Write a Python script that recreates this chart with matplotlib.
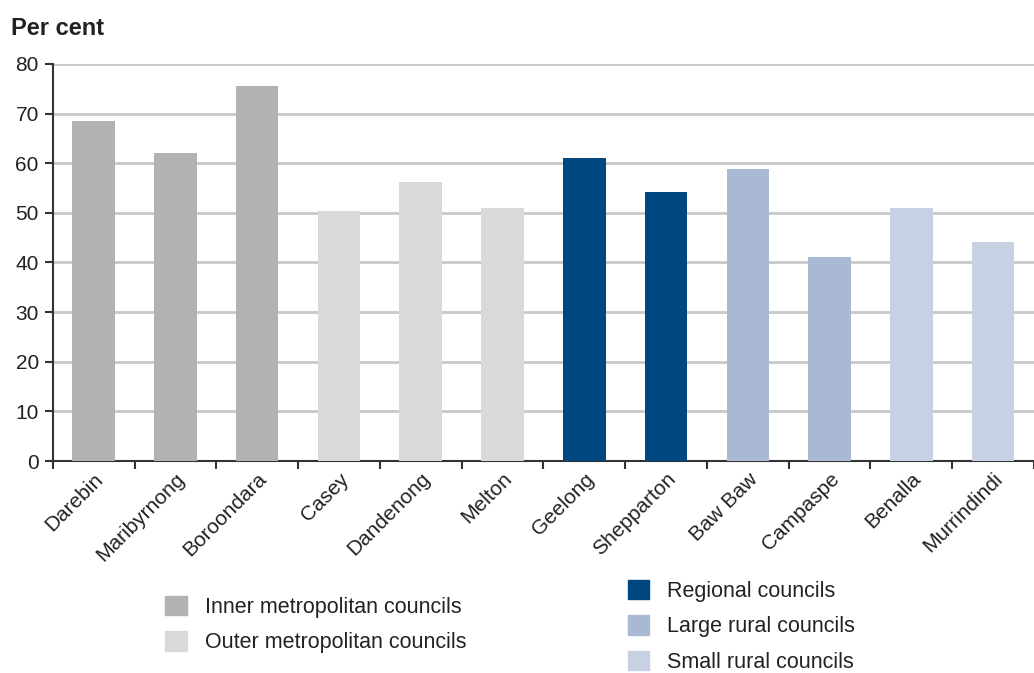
import matplotlib
matplotlib.use("Agg")
import matplotlib.pyplot as plt
from matplotlib.patches import Patch

# Council data (per cent)
councils = ["Darebin", "Maribyrnong", "Boroondara", "Casey", "Dandenong", "Melton",
            "Geelong", "Shepparton", "Baw Baw", "Campaspe", "Benalla", "Murrindindi"]
values = [68.5, 62.1, 75.6, 50.4, 56.2, 51.0, 61.1, 54.2, 58.8, 41.1, 51.0, 44.1]
groups = ["inner", "inner", "inner", "outer", "outer", "outer",
          "regional", "regional", "large", "large", "small", "small"]

group_labels = {
    "inner": "Inner metropolitan councils",
    "outer": "Outer metropolitan councils",
    "regional": "Regional councils",
    "large": "Large rural councils",
    "small": "Small rural councils",
}
group_colours = {
    "inner": "#b2b2b2",
    "outer": "#d9d9d9",
    "regional": "#00467f",
    "large": "#a9b9d3",
    "small": "#c8d1e3",
}

plt.rcParams["font.family"] = ["Liberation Sans", "DejaVu Sans"]

fig = plt.figure(figsize=(10.34, 6.73), dpi=100)
ax = fig.add_axes([0.051, 0.315, 0.949, 0.59])

x = list(range(len(councils)))
ax.bar(x, values, width=0.52, color=[group_colours[g] for g in groups], zorder=3)

ax.set_xlim(-0.5, len(councils) - 0.5)
ax.set_ylim(0, 80)
ax.set_yticks(range(0, 81, 10))
ax.yaxis.grid(True, color="#c8c8c8", linewidth=2, zorder=0)
ax.set_axisbelow(True)

# ticks sit between categories, labels under the bar centres
ax.set_xticks([i - 0.5 for i in range(len(councils) + 1)])
ax.set_xticklabels([])
ax.set_xticks(x, minor=True)
ax.set_xticklabels(councils, minor=True, rotation=45, ha="right",
                   rotation_mode="anchor", fontsize=15, color="#222222")
ax.tick_params(axis="x", which="minor", length=0, pad=6)
ax.tick_params(axis="x", which="major", length=6, width=1.5, color="#333333")
ax.tick_params(axis="y", length=6, width=1.5, color="#333333",
               labelsize=15, labelcolor="#222222", pad=4)

for side in ["top", "right"]:
    ax.spines[side].set_visible(False)
ax.spines["left"].set_color("#333333")
ax.spines["left"].set_linewidth(1.5)
ax.spines["bottom"].set_color("#333333")
ax.spines["bottom"].set_linewidth(1.5)

fig.text(0.011, 0.957, "Per cent", fontsize=17, fontweight="bold",
         color="#222222", va="center")

legend_kw = dict(frameon=False, fontsize=15.5, handlelength=1.0, handleheight=1.0,
                 handletextpad=0.85, labelspacing=0.62, borderpad=0, borderaxespad=0)
left_keys = ["inner", "outer"]
right_keys = ["regional", "large", "small"]
leg1 = fig.legend(handles=[Patch(color=group_colours[k], label=group_labels[k]) for k in left_keys],
                  loc="upper left", **legend_kw)
leg1.set_bbox_to_anchor((0.16, 1 - 596 / 673), transform=fig.transFigure)
leg2 = fig.legend(handles=[Patch(color=group_colours[k], label=group_labels[k]) for k in right_keys],
                  loc="upper left", **legend_kw)
leg2.set_bbox_to_anchor((0.607, 1 - 580 / 673), transform=fig.transFigure)
for leg in (leg1, leg2):
    for t in leg.get_texts():
        t.set_color("#222222")

fig.savefig("out.png", dpi=100)
